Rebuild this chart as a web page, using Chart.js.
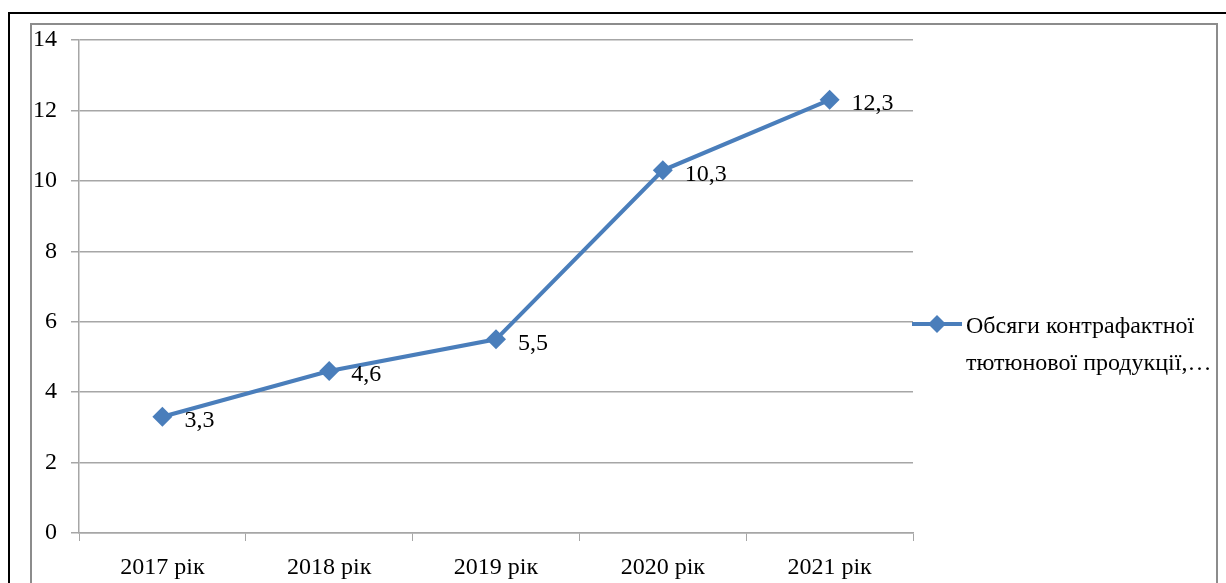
<!DOCTYPE html>
<html lang="uk">
<head>
    <meta charset="UTF-8">
    <title>Обсяги контрафактної тютюнової продукції</title>
    <script src="https://cdn.jsdelivr.net/npm/chart.js"></script>
    <style>
        html, body { margin: 0; padding: 0; background: #fff; }
        #wrap { width: 1226px; height: 583px; position: relative; }
    </style>
</head>
<body>
    <div id="wrap"><canvas id="chart"></canvas></div>

    <script>
        // Data
        const years = ['2017 рік', '2018 рік', '2019 рік', '2020 рік', '2021 рік'];
        const volumes = [3.3, 4.6, 5.5, 10.3, 12.3];
        const seriesName = 'Обсяги контрафактної тютюнової продукції,…';
        const legendLines = ['Обсяги контрафактної', 'тютюнової продукції,…'];

        const FONT = '"Liberation Serif", "Times New Roman", serif';
        const BLUE = '#4a7ebb';
        const GRID = '#a6a6a6';

        // Frames behind the chart
        const framePlugin = {
            id: 'frames',
            beforeDraw(chart) {
                const ctx = chart.ctx;
                ctx.save();
                ctx.fillStyle = '#fff';
                ctx.fillRect(0, 0, chart.width, chart.height);
                ctx.strokeStyle = '#000';
                ctx.lineWidth = 2;
                ctx.beginPath();
                ctx.moveTo(9, 600);
                ctx.lineTo(9, 13);
                ctx.lineTo(1240, 13);
                ctx.stroke();
                ctx.strokeStyle = '#8c8c8c';
                ctx.lineWidth = 2;
                ctx.beginPath();
                ctx.moveTo(31, 600);
                ctx.lineTo(31, 24);
                ctx.lineTo(1217, 24);
                ctx.lineTo(1217, 600);
                ctx.stroke();
                ctx.restore();
            }
        };

        // Value labels to the right of each point, plus legend
        const labelPlugin = {
            id: 'labels',
            afterDatasetsDraw(chart) {
                const ctx = chart.ctx;
                const meta = chart.getDatasetMeta(0);
                ctx.save();
                ctx.font = '24px ' + FONT;
                ctx.fillStyle = '#000';
                ctx.textAlign = 'left';
                ctx.textBaseline = 'middle';
                meta.data.forEach((pt, i) => {
                    ctx.fillText(String(volumes[i]).replace('.', ','), pt.x + 22, pt.y + 4);
                });

                // legend
                const ly = 324;
                ctx.strokeStyle = BLUE;
                ctx.lineWidth = 4;
                ctx.beginPath();
                ctx.moveTo(912, ly);
                ctx.lineTo(962, ly);
                ctx.stroke();
                ctx.fillStyle = BLUE;
                ctx.beginPath();
                ctx.moveTo(937, ly - 9);
                ctx.lineTo(946, ly);
                ctx.lineTo(937, ly + 9);
                ctx.lineTo(928, ly);
                ctx.closePath();
                ctx.fill();
                ctx.fillStyle = '#000';
                ctx.font = '24px ' + FONT;
                ctx.fillText(legendLines[0], 966, 327);
                ctx.fillText(legendLines[1], 966, 364);
                ctx.restore();
            }
        };

        new Chart(document.getElementById('chart'), {
            type: 'line',
            data: {
                labels: years,
                datasets: [{
                    label: seriesName,
                    data: volumes,
                    borderColor: BLUE,
                    backgroundColor: BLUE,
                    borderWidth: 4,
                    pointStyle: 'rectRot',
                    pointRadius: 10,
                    pointHoverRadius: 10,
                    pointBorderWidth: 0,
                    tension: 0
                }]
            },
            options: {
                responsive: true,
                maintainAspectRatio: false,
                animation: false,
                layout: { padding: { top: 40, right: 313, left: 0, bottom: 0 } },
                plugins: {
                    legend: { display: false },
                    tooltip: { enabled: false }
                },
                scales: {
                    x: {
                        offset: true,
                        afterFit(scale) { scale.height = 50; },
                        grid: {
                            offset: true,
                            drawOnChartArea: false,
                            color: GRID,
                            tickLength: 8
                        },
                        border: { color: GRID, width: 1.5 },
                        ticks: {
                            color: '#000',
                            font: { family: FONT, size: 24 },
                            padding: 12,
                            maxRotation: 0
                        }
                    },
                    y: {
                        min: 0,
                        max: 14,
                        afterFit(scale) { scale.width = 79; },
                        grid: { color: GRID, lineWidth: 1.5, tickLength: 8 },
                        border: { color: GRID, width: 1.5 },
                        ticks: {
                            stepSize: 2,
                            color: '#000',
                            font: { family: FONT, size: 24 },
                            padding: 14
                        }
                    }
                }
            },
            plugins: [framePlugin, labelPlugin]
        });
    </script>
</body>
</html>
